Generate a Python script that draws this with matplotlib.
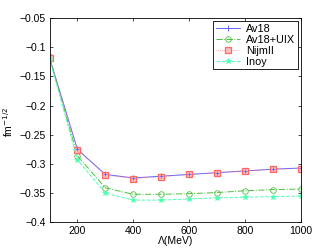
import matplotlib
matplotlib.use("Agg")
import matplotlib.pyplot as plt

lam = [100, 200, 300, 400, 500, 600, 700, 800, 900, 1000]
av18 = [-0.118, -0.275, -0.318, -0.324, -0.321, -0.318, -0.315, -0.312, -0.309, -0.307]
av18uix = [-0.117, -0.286, -0.341, -0.352, -0.352, -0.351, -0.349, -0.346, -0.344, -0.343]
nijm = [-0.118, -0.276, -0.319, -0.325, -0.322, -0.318, -0.315, -0.312, -0.309, -0.308]
inoy = [-0.120, -0.293, -0.350, -0.362, -0.362, -0.360, -0.358, -0.357, -0.356, -0.355]
xticks = [200, 400, 600, 800, 1000]
yticks = [-0.4, -0.35, -0.3, -0.25, -0.2, -0.15, -0.1, -0.05]
ytick_labels = ["\u22120.4", "\u22120.35", "\u22120.3", "\u22120.25", "\u22120.2", "\u22120.15", "\u22120.1", "\u22120.05"]

plt.rcParams['font.family'] = ['Liberation Sans', 'DejaVu Sans']
fig = plt.figure(figsize=(3.32, 2.5), dpi=100)
L, R, B, T = 49.5 / 332, 300.8 / 332, 1 - 222.3 / 250, 1 - 18.0 / 250
ax = fig.add_axes([L, B, R - L, T - B])

ax.plot(lam, av18, color=(0.4, 0.4, 1.0), ls='-', lw=0.7, marker='+', ms=4, mew=0.7, label='Av18')
ax.plot(lam, av18uix, color=(0.3, 0.75, 0.25), ls='-.', lw=0.7, marker='o', ms=4, mfc='none', mew=0.6, label='Av18+UIX')
ax.plot(lam, nijm, color=(1.0, 0.4, 0.4), ls=':', lw=0.5, marker='s', ms=4, mfc=(1.0, 0.75, 0.75), mew=0.9, label='NijmII')
ax.plot(lam, av18, color=(0.4, 0.4, 1.0), ls='none', marker='+', ms=3, mew=0.6)
ax.plot(lam, inoy, color=(0.3, 1.0, 0.7), ls='--', lw=0.7, marker='*', ms=4, mew=0.5, label='Inoy')

ax.set_xlim(100, 1000)
ax.set_ylim(-0.4, -0.05)
ax.set_xticks(xticks)
ax.set_yticks(yticks)
ax.set_yticklabels(ytick_labels)
ax.tick_params(direction='in', labelsize=7.5, length=2.5, width=0.5, top=True, right=True, pad=2.5)
for s in ax.spines.values():
    s.set_linewidth(0.6)
ax.set_xlabel('\u039b(MeV)', fontsize=7.5, labelpad=0)
ax.set_ylabel('fm$^{-1/2}$', fontsize=7.5)
ax.yaxis.set_label_coords(-(49.5 - 15) / (300.8 - 49.5), 0.49)

leg = ax.legend(loc='upper right', fontsize=7.8, fancybox=False,
                edgecolor='black', framealpha=1, borderpad=0.27, labelspacing=0.09,
                handlelength=2.2, handletextpad=0.55, borderaxespad=0.25)
leg.get_frame().set_linewidth(0.6)

fig.savefig('out.png', dpi=100)
